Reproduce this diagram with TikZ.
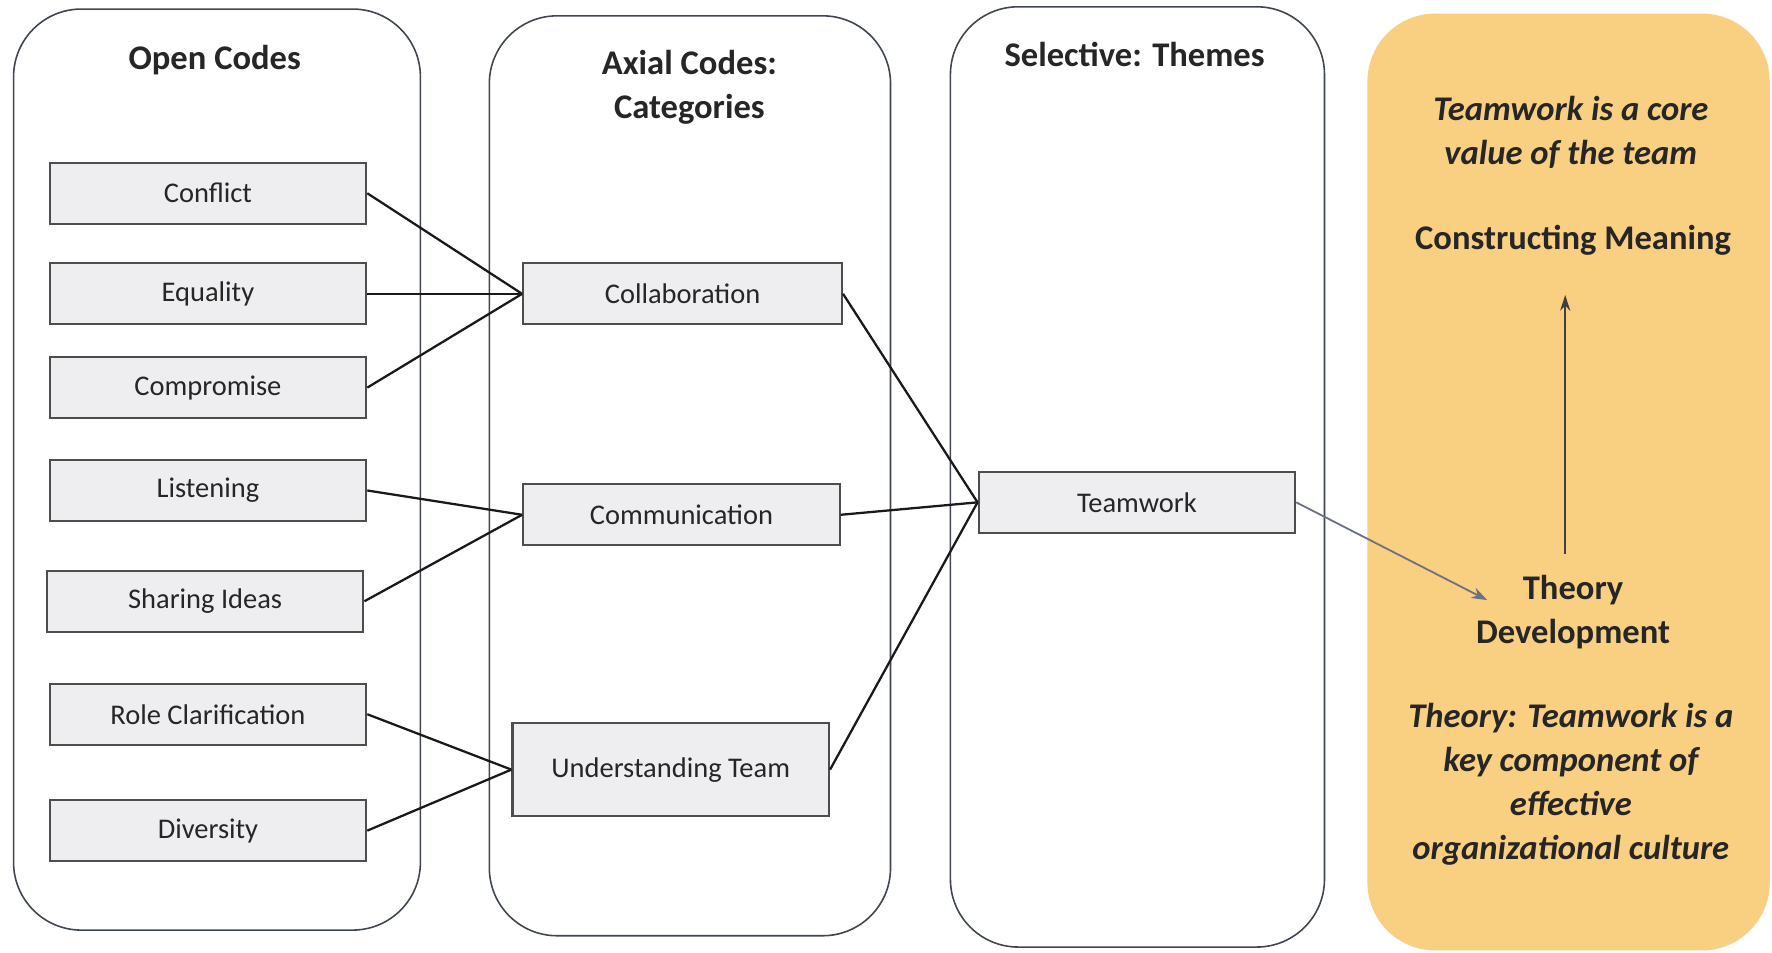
\documentclass[tikz,border=0pt]{standalone}
\usepackage{fontspec}
\setmainfont{Carlito}
\usetikzlibrary{arrows.meta}
\definecolor{panelline}{HTML}{3F4650}
\definecolor{boxfill}{HTML}{EEEEF1}
\definecolor{boxline}{HTML}{4D4D4D}
\definecolor{orangefill}{HTML}{F9CF82}
\definecolor{arrowgray}{HTML}{6B7382}
\definecolor{textdark}{HTML}{262626}
\begin{document}
\begin{tikzpicture}[x=0.5pt,y=-0.5pt,
  panel/.style={draw=panelline, line width=0.7pt, rounded corners=30pt, inner sep=0pt},
  codebox/.style={draw=boxline, fill=boxfill, line width=1pt, minimum width=140pt, minimum height=27pt, inner sep=0pt, text=textdark, font=\fontsize{12.6}{15}\selectfont},
  title/.style={font=\fontsize{15.3}{19.5}\selectfont\bfseries, text=textdark, align=center, inner sep=0pt},
  ititle/.style={font=\fontsize{15.3}{19.4}\selectfont\bfseries\itshape, text=textdark, align=center, inner sep=0pt},
  link/.style={draw=black!90, line width=1pt}]
\useasboundingbox (0,0) rectangle (1568,843);
\fill[white] (0,0) rectangle (1568,843);

% panels
\node[panel, minimum width=180pt, minimum height=407.5pt] (p1) at (192,415.5) {};
\node[panel, minimum width=177.5pt, minimum height=407pt] (p2) at (610.5,421) {};
\node[panel, minimum width=165.5pt, minimum height=416pt] (p3) at (1006.5,422) {};
\node[panel, draw=none, fill=orangefill, minimum width=178pt, minimum height=414.5pt] (p4) at (1388,426.5) {};

% titles
\node[title] (t1) at (190,53) {Open Codes};
\node[title] (t2) at (610,77.5) {Axial Codes:\\Categories};
\node[title] (t3) at (1004,48) {Selective: Themes};
\node[ititle] (t4) at (1390,117.5) {Teamwork is a core\\value of the team};
\node[title] (t5) at (1392,213) {Constructing Meaning};
\node[title] (t6) at (1392,541.5) {Theory\\Development};
\node[ititle] (t7) at (1390,694) {Theory: Teamwork is a\\key component of\\effective\\organizational culture};

% open codes
\node[codebox] (conflict) at (184,171) {Conflict};
\node[codebox] (equality) at (184,260) {Equality};
\node[codebox] (compromise) at (184,343) {Compromise};
\node[codebox] (listening) at (184,434) {Listening};
\node[codebox] (sharing) at (181.5,532) {Sharing Ideas};
\node[codebox] (role) at (184,632) {Role Clarification};
\node[codebox] (diversity) at (184,735) {Diversity};

% axial codes
\node[codebox, minimum width=141pt] (collab) at (604,260) {Collaboration};
\node[codebox] (comm) at (603,455.5) {Communication};
\node[codebox, minimum height=41pt] (under) at (593.5,681) {Understanding Team};

% theme
\node[codebox] (teamwork) at (1006,444.5) {Teamwork};

% links
\draw[link] (conflict.east) -- (collab.west);
\draw[link] (equality.east) -- (collab.west);
\draw[link] (compromise.east) -- (collab.west);
\draw[link] (listening.east) -- (comm.west);
\draw[link] (sharing.east) -- (comm.west);
\draw[link] (role.east) -- (under.west);
\draw[link] (diversity.east) -- (under.west);
\draw[link] (collab.east) -- (teamwork.west);
\draw[link] (comm.east) -- (teamwork.west);
\draw[link] (under.east) -- (teamwork.west);

% arrows in the orange panel
\coordinate (theoryin) at (1316,531);
\coordinate (upstart) at (1385,490);
\coordinate (upend) at (1385,261);
\draw[draw=arrowgray, line width=0.8pt, -{Stealth[length=7pt,width=5pt]}] (teamwork.east) -- (theoryin);
\draw[draw=black!75, line width=0.7pt, -{Stealth[length=7pt,width=4.5pt]}] (upstart) -- (upend);
\end{tikzpicture}
\end{document}
